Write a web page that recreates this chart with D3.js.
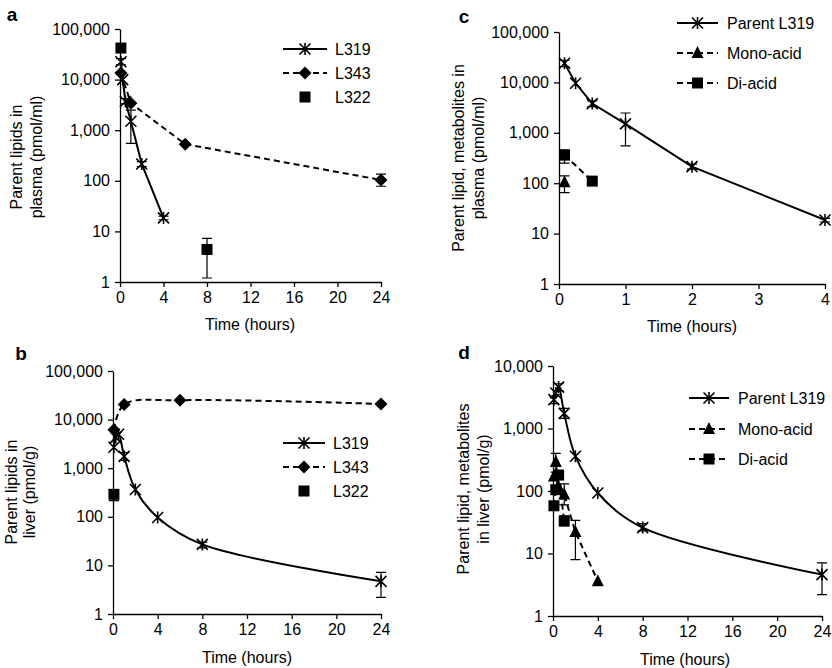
<!DOCTYPE html>
<html><head><meta charset="utf-8">
<script src="https://cdn.jsdelivr.net/npm/d3@7"></script>
<style>body{margin:0;background:#fff}svg{display:block}text{font-family:"Liberation Sans",Arial,sans-serif;fill:#000}</style>
</head><body><svg id="c" width="832" height="668"></svg>
<script>
// ---------- DATA ----------
const xTicks24 = [0, 4, 8, 12, 16, 20, 24];
const xTicks4 = [0, 1, 2, 3, 4];
const yTicks5 = [1, 10, 100, 1000, 10000, 100000];
const yTicks4 = [1, 10, 100, 1000, 10000];

// Panel a: plasma
const aL319T = [0.083, 0.25, 0.5, 1, 2, 4];
const aL319V = [22500, 10000, 3700, 1500, 215, 18.5];
const aL319Lo = [19500, null, 3300, 550, 190, 17];
const aL319Hi = [26000, null, 4200, 2500, 240, 20];
const aL343T = [0.083, 1, 6, 24];
const aL343V = [13500, 3400, 530, 104];
const aL343Lo = [null, null, null, 78];
const aL343Hi = [null, null, null, 135];
const aL322T = [0.083, 8];
const aL322V = [42000, 4.4];
const aL322Lo = [null, 1.2];
const aL322Hi = [null, 7.3];

// Panel b: liver
const bL319T = [0.083, 0.25, 0.5, 1, 2, 4, 8, 24];
const bL319V = [2700, 4300, 5000, 1750, 365, 97, 27, 4.7];
const bL319Lo = [null, null, null, 1450, null, null, 23, 2.2];
const bL319Hi = [null, null, null, 2100, null, null, 30, 7.2];
const bL343T = [0.083, 1, 6, 24];
const bL343V = [6200, 20500, 25000, 21000];
const bL322T = [0.083];
const bL322V = [290];
const bL322Lo = [215];
const bL322Hi = [360];

// Panel c: plasma, metabolites
const cParT = [0.083, 0.25, 0.5, 1, 2, 4];
const cParV = [24000, 9600, 3800, 1500, 213, 18.6];
const cParLo = [20500, null, 3300, 550, 190, 17];
const cParHi = [27500, null, 4300, 2470, 240, 20];
const cMonoT = [0.083];
const cMonoV = [104];
const cMonoLo = [65];
const cMonoHi = [140];
const cDiT = [0.083, 0.5];
const cDiV = [360, 110];
const cDiLo = [250, 95];
const cDiHi = [460, 125];

// Panel d: liver, metabolites
const dParT = [0.083, 0.25, 0.5, 1, 2, 4, 8, 24];
const dParV = [2900, 3700, 4600, 1750, 360, 93, 26, 4.6];
const dParLo = [2500, null, 4000, 1450, null, null, 23, 2.2];
const dParHi = [3300, null, 5200, 2100, null, null, 30, 7.1];
const dMonoT = [0.083, 0.25, 0.5, 1, 2, 4];
const dMonoV = [170, 290, 115, 88, 22, 3.6];
const dMonoLo = [null, 200, null, 60, 8, null];
const dMonoHi = [null, 400, null, 130, 34, null];
const dDiT = [0.083, 0.25, 0.5, 1];
const dDiV = [58, 105, 180, 33];
const dDiLo = [null, null, null, 28];
const dDiHi = [null, null, null, 40];

// ---------- DRAWING ----------
const svg = d3.select("#c");
const fmt = d3.format(",");
const fmtX = d3.format("d");

function zip(t, v, lo, hi) {
  return t.map((x, i) => ({x, y: v[i], lo: lo ? lo[i] : null, hi: hi ? hi[i] : null}));
}

function marker(g, type, x, y) {
  if (type === "star") {
    const s = 5.5;
    g.append("path").attr("d", `M${x-s},${y-s}L${x+s},${y+s}M${x-s},${y+s}L${x+s},${y-s}M${x},${y-s-0.5}L${x},${y+s+0.5}`)
      .attr("stroke", "#000").attr("stroke-width", 1.6).attr("fill", "none");
  } else if (type === "diamond") {
    const s = 6.5;
    g.append("path").attr("d", `M${x},${y-s}L${x+s},${y}L${x},${y+s}L${x-s},${y}Z`).attr("fill", "#000");
  } else if (type === "square") {
    const s = 5.5;
    g.append("rect").attr("x", x-s).attr("y", y-s).attr("width", 2*s).attr("height", 2*s).attr("fill", "#000");
  } else if (type === "tri") {
    const s = 6;
    g.append("path").attr("d", `M${x},${y-s-1}L${x+s},${y+s-1}L${x-s},${y+s-1}Z`).attr("fill", "#000");
  }
}

function panel(cfg) {
  const g = svg.append("g");
  const x = d3.scaleLinear().domain(cfg.xDomain).range([cfg.left, cfg.right]);
  const y = d3.scaleLog().domain(cfg.yDomain).range([cfg.bottom, cfg.top]);

  const xa = g.append("g").attr("transform", `translate(0,${cfg.bottom})`)
    .call(d3.axisBottom(x).tickValues(cfg.xTicks).tickFormat(fmtX).tickSize(5).tickPadding(5).tickSizeOuter(0));
  const ya = g.append("g").attr("transform", `translate(${cfg.left},0)`)
    .call(d3.axisLeft(y).tickValues(cfg.yTicks).tickFormat(fmt).tickSize(5).tickPadding(5).tickSizeOuter(0));
  [xa, ya].forEach(a => {
    a.select(".domain").attr("stroke", "#000").attr("stroke-width", 1.3);
    a.selectAll(".tick line").attr("stroke", "#000").attr("stroke-width", 1.3);
    a.selectAll("text").style("font-size", "16px").attr("fill", "#000");
  });

  // titles
  g.append("text").attr("x", cfg.xTitle[0]).attr("y", cfg.xTitle[1]).attr("text-anchor", "middle")
    .attr("dominant-baseline", "central").style("font-size", "16px").text("Time (hours)");
  cfg.yTitle.forEach((t, i) => {
    g.append("text").attr("transform", `translate(${cfg.yTitleX[i]},${cfg.yTitleY}) rotate(-90)`)
      .attr("text-anchor", "middle").attr("dominant-baseline", "central").style("font-size", "16px").text(t);
  });
  g.append("text").attr("x", cfg.label[0]).attr("y", cfg.label[1]).attr("text-anchor", "middle")
    .attr("dominant-baseline", "central").style("font-size", "19px").style("font-weight", "bold").text(cfg.label[2]);

  cfg.series.forEach(s => {
    const pts = s.data;
    if (s.line) {
      const line = d3.line().x(d => x(d.x)).y(d => y(d.y)).curve(s.smooth ? d3.curveCatmullRom.alpha(0.5) : d3.curveLinear);
      g.append("path").datum(pts).attr("d", line).attr("fill", "none").attr("stroke", "#000")
        .attr("stroke-width", 2).attr("stroke-dasharray", s.dash ? "6,4" : null);
    }
    pts.forEach(d => {
      if (d.lo != null && d.hi != null) {
        const px = x(d.x), y1 = y(d.lo), y2 = y(d.hi);
        g.append("path").attr("d", `M${px},${y1}L${px},${y2}M${px-5},${y1}L${px+5},${y1}M${px-5},${y2}L${px+5},${y2}`)
          .attr("stroke", "#000").attr("stroke-width", 1.2).attr("fill", "none");
      }
    });
    pts.forEach(d => marker(g, s.marker, x(d.x), y(d.y)));
  });

  // legend
  cfg.series.forEach((s, i) => {
    const ly = cfg.legend.ys[i], lx1 = cfg.legend.x1, lx2 = cfg.legend.x2;
    if (s.line) {
      g.append("line").attr("x1", lx1).attr("x2", lx2).attr("y1", ly).attr("y2", ly)
        .attr("stroke", "#000").attr("stroke-width", 2).attr("stroke-dasharray", s.dash ? "6,4" : null);
    }
    marker(g, s.marker, (lx1 + lx2) / 2, ly);
    g.append("text").attr("x", cfg.legend.tx).attr("y", ly).attr("dominant-baseline", "central")
      .style("font-size", "16px").text(s.name);
  });
}

panel({
  left: 120, right: 381, top: 29, bottom: 282, xDomain: [0, 24], yDomain: [1, 100000],
  xTicks: xTicks24, yTicks: yTicks5, xTitle: [250, 324], yTitle: ["Parent lipids in", "plasma (pmol/ml)"],
  yTitleX: [16, 36], yTitleY: 157, label: [12, 14, "a"],
  legend: {x1: 283, x2: 327, tx: 335, ys: [49, 73, 97]},
  series: [
    {name: "L319", marker: "star", line: true, dash: false, smooth: false, data: zip(aL319T, aL319V, aL319Lo, aL319Hi)},
    {name: "L343", marker: "diamond", line: true, dash: true, smooth: false, data: zip(aL343T, aL343V, aL343Lo, aL343Hi)},
    {name: "L322", marker: "square", line: false, data: zip(aL322T, aL322V, aL322Lo, aL322Hi)}
  ]
});

panel({
  left: 113, right: 381, top: 371, bottom: 614, xDomain: [0, 24], yDomain: [1, 100000],
  xTicks: xTicks24, yTicks: yTicks5, xTitle: [247, 657], yTitle: ["Parent lipids in", "liver (pmol/g)"],
  yTitleX: [11, 29], yTitleY: 492, label: [21, 353, "b"],
  legend: {x1: 283, x2: 325, tx: 333, ys: [443, 467, 491]},
  series: [
    {name: "L319", marker: "star", line: true, dash: false, smooth: true, data: zip(bL319T, bL319V, bL319Lo, bL319Hi)},
    {name: "L343", marker: "diamond", line: true, dash: true, smooth: true, data: zip(bL343T, bL343V)},
    {name: "L322", marker: "square", line: false, data: zip(bL322T, bL322V, bL322Lo, bL322Hi)}
  ]
});

panel({
  left: 559, right: 825, top: 32, bottom: 284, xDomain: [0, 4], yDomain: [1, 100000],
  xTicks: xTicks4, yTicks: yTicks5, xTitle: [692, 326], yTitle: ["Parent lipid, metabolites in", "plasma (pmol/ml)"],
  yTitleX: [458, 478], yTitleY: 158, label: [464, 16, "c"],
  legend: {x1: 677, x2: 718, tx: 727, ys: [23, 53, 83]},
  series: [
    {name: "Parent L319", marker: "star", line: true, dash: false, smooth: false, data: zip(cParT, cParV, cParLo, cParHi)},
    {name: "Mono-acid", marker: "tri", line: true, dash: true, smooth: false, data: zip(cMonoT, cMonoV, cMonoLo, cMonoHi)},
    {name: "Di-acid", marker: "square", line: true, dash: true, smooth: false, data: zip(cDiT, cDiV, cDiLo, cDiHi)}
  ]
});

panel({
  left: 553, right: 822, top: 366, bottom: 616, xDomain: [0, 24], yDomain: [1, 10000],
  xTicks: xTicks24, yTicks: yTicks4, xTitle: [685, 659], yTitle: ["Parent lipid, metabolites", "in liver (pmol/g)"],
  yTitleX: [463, 483], yTitleY: 489, label: [464, 352, "d"],
  legend: {x1: 689, x2: 729, tx: 738, ys: [398, 429, 459]},
  series: [
    {name: "Parent L319", marker: "star", line: true, dash: false, smooth: true, data: zip(dParT, dParV, dParLo, dParHi)},
    {name: "Mono-acid", marker: "tri", line: true, dash: true, smooth: false, data: zip(dMonoT, dMonoV, dMonoLo, dMonoHi)},
    {name: "Di-acid", marker: "square", line: true, dash: true, smooth: false, data: zip(dDiT, dDiV, dDiLo, dDiHi)}
  ]
});
</script></body></html>
